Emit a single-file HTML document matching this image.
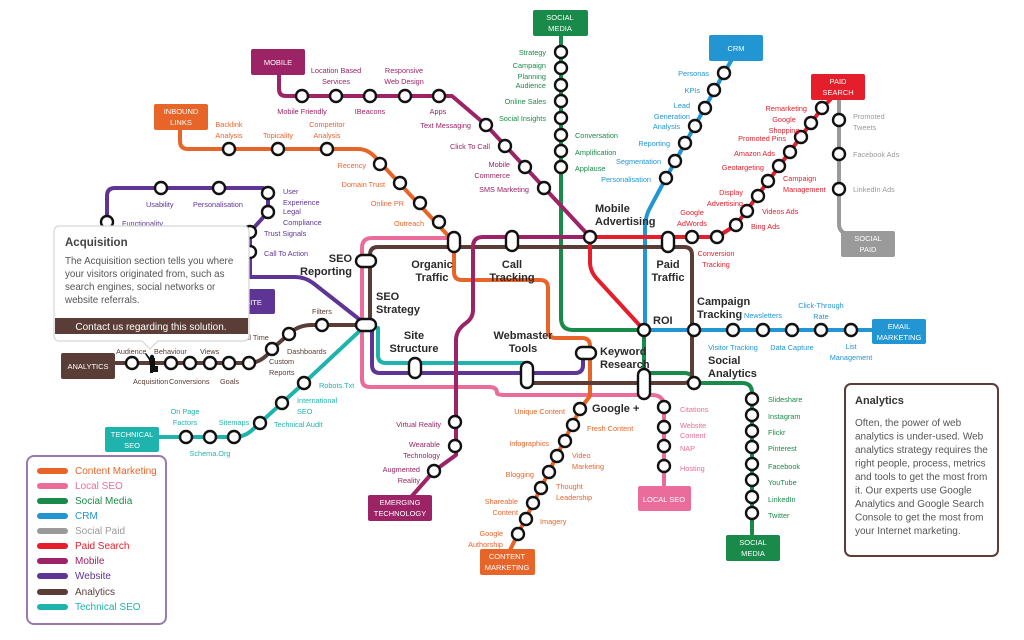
<!DOCTYPE html>
<html><head><meta charset="utf-8"><style>
html,body{margin:0;padding:0;background:#fff;}
svg{display:block;font-family:"Liberation Sans",Arial,sans-serif;}
.s{font-size:7.3px;}
.b{font-size:11px;font-weight:bold;fill:#2a2a2a;}
.bx{font-size:7.5px;fill:#fff;text-anchor:middle;}
.st{fill:#fff;stroke:#111;stroke-width:2.4;}
.ln{fill:none;stroke-width:4;stroke-linecap:round;stroke-linejoin:round;}
</style></head><body>
<svg width="1024" height="640" viewBox="0 0 1024 640" xmlns="http://www.w3.org/2000/svg">
<path class="ln" stroke="#e96c9b" d="M454,238 H372 Q362,238 362,248 V379 Q362,387 370,387 H489 Q497,387 497,393 Q497,395 505,395 H652 Q664,395 664,407 V488"/>
<path class="ln" stroke="#e8652a" d="M180,130 V141 Q180,149 188,149 H358 Q368,149 376,158 L454,242 V272 Q454,280 462,280 H540 Q548,280 548,288 V330 Q548,338 556,338 H582 Q590,338 590,346 V396 L580,409 L518,534 L510,550"/>
<path class="ln" stroke="#1a8a4a" d="M561,36 V318 Q561,330 573,330 H644 V383"/>
<path class="ln" stroke="#1a8a4a" d="M644,373 H684 Q694,373 694,383 H742 Q752,383 752,393 V536"/>
<path class="ln" stroke="#2196d3" d="M731,61 L724,73 L666,178 L651,206 Q645,216 645,228 V330 H872"/>
<path class="ln" stroke="#9a9a9a" d="M839,100 V224 Q839,232 847,234"/>
<path class="ln" stroke="#5a3d36" d="M370,325 V255 Q370,247 378,247 H684 Q692,247 692,255 V375 Q692,383 684,383 H527"/>
<path class="ln" stroke="#5a3d36" d="M116,363 H249 Q262,363 272,349 L289,334 Q298,325 312,325 H366"/>
<path class="ln" stroke="#1fb3ad" d="M108,437 H234 Q244,437 251,431 L304,383 L366,325"/>
<path class="ln" stroke="#1fb3ad" d="M378,328 V355 Q378,363 386,363 H527"/>
<path class="ln" stroke="#5e3495" d="M107,225 V196 Q107,188 115,188 H262 Q268,188 268,196 V212 L250,232 V277 H295 Q305,277 313,283 L364,323"/>
<path class="ln" stroke="#5e3495" d="M372,325 V365 Q372,373 380,373 H575 Q583,373 583,365 V354"/>
<path class="ln" stroke="#e41e2b" d="M590,237 H717 L736,225 L822,108 L830,100"/>
<path class="ln" stroke="#e41e2b" d="M590,237 V262 Q590,272 598,280 L643,329"/>
<path class="ln" stroke="#9b2366" d="M279,75 V89 Q279,96 286,96 H452 L486,125 L590,237 H483 Q473,237 473,247 V310 Q473,318 466,323 Q456,330 456,340 V455 L434,471 L412,496"/>

<g class="st">
<circle cx="302" cy="96" r="6"/><circle cx="336" cy="96" r="6"/><circle cx="370" cy="96" r="6"/><circle cx="405" cy="96" r="6"/><circle cx="439" cy="96" r="6"/>
<circle cx="486" cy="125" r="6"/><circle cx="505" cy="146" r="6"/><circle cx="525" cy="167" r="6"/><circle cx="544" cy="188" r="6"/>
<circle cx="455" cy="422" r="6"/><circle cx="455" cy="446" r="6"/><circle cx="434" cy="471" r="6"/>
<circle cx="229" cy="149" r="6"/><circle cx="278" cy="149" r="6"/><circle cx="327" cy="149" r="6"/>
<circle cx="380" cy="164" r="6"/><circle cx="400" cy="183" r="6"/><circle cx="420" cy="203" r="6"/><circle cx="439" cy="222" r="6"/>
<circle cx="107" cy="222" r="6"/><circle cx="161" cy="188" r="6"/><circle cx="219" cy="188" r="6"/><circle cx="268" cy="193" r="6"/><circle cx="268" cy="212" r="6"/><circle cx="250" cy="232" r="6"/><circle cx="250" cy="252" r="6"/>
<circle cx="561" cy="52" r="6"/><circle cx="561" cy="68" r="6"/><circle cx="561" cy="85" r="6"/><circle cx="561" cy="101" r="6"/><circle cx="561" cy="118" r="6"/><circle cx="561" cy="135" r="6"/><circle cx="561" cy="151" r="6"/><circle cx="561" cy="167" r="6"/>
<circle cx="724" cy="73" r="6"/><circle cx="714" cy="90" r="6"/><circle cx="705" cy="108" r="6"/><circle cx="695" cy="126" r="6"/><circle cx="685" cy="143" r="6"/><circle cx="675" cy="161" r="6"/><circle cx="666" cy="178" r="6"/>
<circle cx="822" cy="108" r="6"/><circle cx="811" cy="123" r="6"/><circle cx="801" cy="137" r="6"/><circle cx="790" cy="152" r="6"/><circle cx="779" cy="166" r="6"/><circle cx="768" cy="181" r="6"/><circle cx="758" cy="196" r="6"/><circle cx="747" cy="211" r="6"/><circle cx="736" cy="225" r="6"/><circle cx="717" cy="237" r="6"/><circle cx="692" cy="237" r="6"/>
<circle cx="839" cy="120" r="6"/><circle cx="839" cy="154" r="6"/><circle cx="839" cy="189" r="6"/>
<circle cx="733" cy="330" r="6"/><circle cx="763" cy="330" r="6"/><circle cx="792" cy="330" r="6"/><circle cx="821" cy="330" r="6"/><circle cx="851" cy="330" r="6"/>
<circle cx="694" cy="330" r="6"/><circle cx="644" cy="330" r="6"/><circle cx="694" cy="383" r="6"/><circle cx="590" cy="237" r="6"/>
<circle cx="752" cy="399" r="6"/><circle cx="752" cy="415" r="6"/><circle cx="752" cy="431" r="6"/><circle cx="752" cy="447" r="6"/><circle cx="752" cy="464" r="6"/><circle cx="752" cy="480" r="6"/><circle cx="752" cy="497" r="6"/><circle cx="752" cy="513" r="6"/>
<circle cx="664" cy="407" r="6"/><circle cx="664" cy="427" r="6"/><circle cx="664" cy="446" r="6"/><circle cx="664" cy="466" r="6"/>
<circle cx="580" cy="409" r="6"/><circle cx="573" cy="425" r="6"/><circle cx="565" cy="441" r="6"/><circle cx="557" cy="456" r="6"/><circle cx="549" cy="472" r="6"/><circle cx="541" cy="488" r="6"/><circle cx="533" cy="503" r="6"/><circle cx="526" cy="519" r="6"/><circle cx="518" cy="534" r="6"/>
<circle cx="132" cy="363" r="6"/><circle cx="171" cy="363" r="6"/><circle cx="190" cy="363" r="6"/><circle cx="210" cy="363" r="6"/><circle cx="229" cy="363" r="6"/><circle cx="249" cy="363" r="6"/>
<circle cx="272" cy="349" r="6"/><circle cx="289" cy="334" r="6"/><circle cx="322" cy="325" r="6"/>
<circle cx="186" cy="437" r="6"/><circle cx="210" cy="437" r="6"/><circle cx="234" cy="437" r="6"/><circle cx="260" cy="423" r="6"/><circle cx="282" cy="403" r="6"/><circle cx="304" cy="383" r="6"/>
<rect x="448" y="232" width="12" height="20" rx="6"/>
<rect x="506" y="231" width="12" height="20" rx="6"/>
<rect x="662" y="232" width="12" height="20" rx="6"/>
<rect x="356" y="255" width="20" height="12" rx="6"/>
<rect x="356" y="319" width="20" height="12" rx="6"/>
<rect x="409" y="358" width="12" height="20" rx="6"/>
<rect x="521" y="362" width="12" height="26" rx="6"/>
<rect x="576" y="347" width="20" height="12" rx="6"/>
<rect x="638" y="369" width="12" height="30" rx="6"/>
</g>
<g fill="#111"><circle cx="152" cy="357" r="2.2"/><path d="M149,360 L145,354 L146,353 L150,358 H155 V368 H153 V373 H150 V366 Z"/><rect x="153" y="366" width="5" height="6"/></g>

<g>
<rect x="251" y="49" width="54" height="26" rx="2" fill="#9b2366"/><text class="bx" x="278" y="65">MOBILE</text>
<rect x="154" y="104" width="54" height="26" rx="2" fill="#e8652a"/><text class="bx" x="181" y="114">INBOUND</text><text class="bx" x="181" y="125">LINKS</text>
<rect x="533" y="10" width="55" height="26" rx="2" fill="#1a8a4a"/><text class="bx" x="560" y="20">SOCIAL</text><text class="bx" x="560" y="31">MEDIA</text>
<rect x="709" y="35" width="54" height="26" rx="2" fill="#2196d3"/><text class="bx" x="736" y="51">CRM</text>
<rect x="811" y="74" width="54" height="26" rx="2" fill="#e41e2b"/><text class="bx" x="838" y="84">PAID</text><text class="bx" x="838" y="95">SEARCH</text>
<rect x="841" y="231" width="54" height="26" rx="2" fill="#9a9a9a"/><text class="bx" x="868" y="241">SOCIAL</text><text class="bx" x="868" y="252">PAID</text>
<rect x="872" y="319" width="54" height="25" rx="2" fill="#2196d3"/><text class="bx" x="899" y="329">EMAIL</text><text class="bx" x="899" y="340">MARKETING</text>
<rect x="726" y="535" width="54" height="26" rx="2" fill="#1a8a4a"/><text class="bx" x="753" y="545">SOCIAL</text><text class="bx" x="753" y="556">MEDIA</text>
<rect x="638" y="486" width="53" height="25" rx="2" fill="#e96c9b"/><text class="bx" x="664" y="502">LOCAL SEO</text>
<rect x="480" y="549" width="55" height="26" rx="2" fill="#e8652a"/><text class="bx" x="507" y="559">CONTENT</text><text class="bx" x="507" y="570">MARKETING</text>
<rect x="368" y="495" width="64" height="26" rx="2" fill="#9b2366"/><text class="bx" x="400" y="505">EMERGING</text><text class="bx" x="400" y="516">TECHNOLOGY</text>
<rect x="105" y="427" width="54" height="25" rx="2" fill="#1fb3ad"/><text class="bx" x="132" y="437">TECHNICAL</text><text class="bx" x="132" y="448">SEO</text>
<rect x="61" y="353" width="54" height="26" rx="2" fill="#5a3d36"/><text class="bx" x="88" y="369">ANALYTICS</text>
<rect x="215" y="289" width="60" height="25" rx="2" fill="#5e3495"/><text class="bx" x="245" y="305">WEBSITE</text>
</g>

<g class="s" fill="#9b2366" text-anchor="middle">
<text x="336" y="73">Location Based</text><text x="336" y="84">Services</text>
<text x="404" y="73">Responsive</text><text x="404" y="84">Web Design</text>
<text x="302" y="114">Mobile Friendly</text><text x="370" y="114">IBeacons</text><text x="438" y="114">Apps</text>
</g>
<g class="s" fill="#9b2366" text-anchor="end">
<text x="471" y="128">Text Messaging</text><text x="490" y="149">Click To Call</text>
<text x="510" y="167">Mobile</text><text x="510" y="178">Commerce</text><text x="529" y="192">SMS Marketing</text>
<text x="441" y="427">Virtual Reality</text><text x="440" y="447">Wearable</text><text x="440" y="458">Technology</text>
<text x="420" y="472">Augmented</text><text x="420" y="483">Reality</text>
</g>
<g class="s" fill="#e8652a" text-anchor="middle">
<text x="229" y="127">Backlink</text><text x="229" y="138">Analysis</text><text x="278" y="138">Topicality</text>
<text x="327" y="127">Competitor</text><text x="327" y="138">Analysis</text>
</g>
<g class="s" fill="#e8652a" text-anchor="end">
<text x="366" y="168">Recency</text><text x="385" y="187">Domain Trust</text><text x="404" y="206">Online PR</text><text x="424" y="226">Outreach</text>
<text x="565" y="414">Unique Content</text><text x="549" y="446">Infographics</text><text x="534" y="477">Blogging</text>
<text x="518" y="504">Shareable</text><text x="518" y="515">Content</text><text x="503" y="536">Google</text><text x="503" y="547">Authorship</text>
</g>
<g class="s" fill="#e8652a">
<text x="587" y="431">Fresh Content</text><text x="572" y="458">Video</text><text x="572" y="469">Marketing</text>
<text x="556" y="489">Thought</text><text x="556" y="500">Leadership</text><text x="540" y="524">Imagery</text>
</g>
<g class="s" fill="#5e3495">
<text x="146" y="207">Usability</text><text x="193" y="207">Personalisation</text>
<text x="283" y="194">User</text><text x="283" y="205">Experience</text><text x="283" y="214">Legal</text><text x="283" y="225">Compliance</text>
<text x="264" y="236">Trust Signals</text><text x="264" y="256">Call To Action</text><text x="122" y="226">Functionality</text>
</g>
<g class="s" fill="#1a8a4a" text-anchor="end">
<text x="546" y="55">Strategy</text><text x="546" y="68">Campaign</text><text x="546" y="79">Planning</text><text x="546" y="88">Audience</text>
<text x="546" y="104">Online Sales</text><text x="546" y="121">Social Insights</text>
</g>
<g class="s" fill="#1a8a4a">
<text x="575" y="138">Conversation</text><text x="575" y="155">Amplification</text><text x="575" y="171">Applause</text>
<text x="768" y="402">Slideshare</text><text x="768" y="419">Instagram</text><text x="768" y="435">Flickr</text><text x="768" y="451">Pinterest</text>
<text x="768" y="469">Facebook</text><text x="768" y="485">YouTube</text><text x="768" y="502">LinkedIn</text><text x="768" y="518">Twitter</text>
</g>
<g class="s" fill="#2196d3" text-anchor="end">
<text x="709" y="76">Personas</text><text x="700" y="93">KPIs</text><text x="690" y="108">Lead</text><text x="690" y="119">Generation</text>
<text x="680" y="129">Analysis</text><text x="670" y="146">Reporting</text><text x="661" y="164">Segmentation</text><text x="651" y="182">Personalisation</text>
</g>
<g class="s" fill="#2196d3" text-anchor="middle">
<text x="763" y="318">Newsletters</text><text x="821" y="308">Click-Through</text><text x="821" y="319">Rate</text>
<text x="733" y="350">Visitor Tracking</text><text x="792" y="350">Data Capture</text><text x="851" y="349">List</text><text x="851" y="360">Management</text>
</g>
<g class="s" fill="#e41e2b" text-anchor="end">
<text x="807" y="111">Remarketing</text><text x="786" y="141">Promoted Pins</text><text x="775" y="156">Amazon Ads</text>
<text x="764" y="170">Geotargeting</text><text x="743" y="195">Display</text><text x="743" y="206">Advertising</text>
</g>
<g class="s" fill="#e41e2b">
<text x="784" y="122" text-anchor="middle">Google</text><text x="784" y="133" text-anchor="middle">Shopping</text>
<text x="783" y="181">Campaign</text><text x="783" y="192">Management</text><text x="762" y="214">Videos Ads</text>
<text x="692" y="215" text-anchor="middle">Google</text><text x="692" y="226" text-anchor="middle">AdWords</text>
<text x="751" y="229">Bing Ads</text>
<text x="716" y="256" text-anchor="middle">Conversion</text><text x="716" y="267" text-anchor="middle">Tracking</text>
</g>
<g class="s" fill="#9a9a9a">
<text x="853" y="119">Promoted</text><text x="853" y="130">Tweets</text><text x="853" y="157">Facebook Ads</text><text x="853" y="192">LinkedIn Ads</text>
</g>
<g class="s" fill="#e96c9b">
<text x="680" y="412">Citations</text><text x="680" y="428">Website</text><text x="680" y="438">Content</text><text x="680" y="451">NAP</text><text x="680" y="471">Hosting</text>
</g>
<g class="s" fill="#5a3d36">
<text x="116" y="354">Audience</text><text x="154" y="354">Behaviour</text><text x="200" y="354">Views</text>
<text x="133" y="384">Acquisition</text><text x="169" y="384">Conversions</text><text x="220" y="384">Goals</text>
<text x="236" y="340">Real Time</text><text x="312" y="314">Filters</text><text x="287" y="354">Dashboards</text>
<text x="269" y="364">Custom</text><text x="269" y="375">Reports</text>
</g>
<g class="s" fill="#1fb3ad">
<text x="185" y="414" text-anchor="middle">On Page</text><text x="185" y="425" text-anchor="middle">Factors</text>
<text x="234" y="425" text-anchor="middle">Sitemaps</text><text x="210" y="456" text-anchor="middle">Schema.Org</text>
<text x="274" y="427">Technical Audit</text><text x="297" y="403">International</text><text x="297" y="414">SEO</text><text x="319" y="388">Robots.Txt</text>
</g>
<g class="b">
<text x="352" y="262" text-anchor="end">SEO</text><text x="352" y="275" text-anchor="end">Reporting</text>
<text x="376" y="300">SEO</text><text x="376" y="313">Strategy</text>
<text x="432" y="268" text-anchor="middle">Organic</text><text x="432" y="281" text-anchor="middle">Traffic</text>
<text x="512" y="268" text-anchor="middle">Call</text><text x="512" y="281" text-anchor="middle">Tracking</text>
<text x="595" y="212">Mobile</text><text x="595" y="225">Advertising</text>
<text x="668" y="268" text-anchor="middle">Paid</text><text x="668" y="281" text-anchor="middle">Traffic</text>
<text x="697" y="305">Campaign</text><text x="697" y="318">Tracking</text>
<text x="653" y="324">ROI</text>
<text x="414" y="339" text-anchor="middle">Site</text><text x="414" y="352" text-anchor="middle">Structure</text>
<text x="523" y="339" text-anchor="middle">Webmaster</text><text x="523" y="352" text-anchor="middle">Tools</text>
<text x="600" y="355">Keyword</text><text x="600" y="368">Research</text>
<text x="708" y="364">Social</text><text x="708" y="377">Analytics</text>
<text x="592" y="412">Google +</text>
</g>

<rect x="27" y="456" width="139" height="168" rx="7" fill="#fff" stroke="#9a7ab0" stroke-width="2"/>
<g stroke-width="6" stroke-linecap="round">
<line x1="40" y1="471" x2="65" y2="471" stroke="#e8652a"/><line x1="40" y1="486" x2="65" y2="486" stroke="#e96c9b"/>
<line x1="40" y1="501" x2="65" y2="501" stroke="#1a8a4a"/><line x1="40" y1="516" x2="65" y2="516" stroke="#2196d3"/>
<line x1="40" y1="531" x2="65" y2="531" stroke="#9a9a9a"/><line x1="40" y1="546" x2="65" y2="546" stroke="#e41e2b"/>
<line x1="40" y1="561" x2="65" y2="561" stroke="#9b2366"/><line x1="40" y1="576" x2="65" y2="576" stroke="#5e3495"/>
<line x1="40" y1="592" x2="65" y2="592" stroke="#5a3d36"/><line x1="40" y1="607" x2="65" y2="607" stroke="#1fb3ad"/>
</g>
<g font-size="10">
<text x="75" y="474" fill="#e8652a">Content Marketing</text><text x="75" y="489" fill="#e96c9b">Local SEO</text>
<text x="75" y="504" fill="#1a8a4a">Social Media</text><text x="75" y="519" fill="#2196d3">CRM</text>
<text x="75" y="534" fill="#9a9a9a">Social Paid</text><text x="75" y="549" fill="#e41e2b">Paid Search</text>
<text x="75" y="564" fill="#9b2366">Mobile</text><text x="75" y="579" fill="#5e3495">Website</text>
<text x="75" y="595" fill="#5a3d36">Analytics</text><text x="75" y="610" fill="#1fb3ad">Technical SEO</text>
</g>

<rect x="845" y="384" width="153" height="172" rx="6" fill="#fff" stroke="#5a3d36" stroke-width="2"/>
<text x="855" y="404" font-size="11" font-weight="bold" fill="#333">Analytics</text>
<g font-size="10" fill="#555">
<text x="855" y="426">Often, the power of web</text><text x="855" y="439.5">analytics is under-used. Web</text>
<text x="855" y="453">analytics strategy requires the</text><text x="855" y="466.5">right people, process, metrics</text>
<text x="855" y="480">and tools to get the most from</text><text x="855" y="493.5">it. Our experts use Google</text>
<text x="855" y="507">Analytics and Google Search</text><text x="855" y="520.5">Console to get the most from</text>
<text x="855" y="534">your Internet marketing.</text>
</g>

<path d="M60,226 H243 Q249,226 249,232 V335 Q249,341 243,341 H158 L150,349 L142,341 H60 Q54,341 54,335 V232 Q54,226 60,226 Z" fill="#fff" stroke="#d6d6d6" stroke-width="1.2"/>
<rect x="55" y="318" width="193" height="16" fill="#5a3d36"/>
<text x="65" y="246" font-size="11.5" font-weight="bold" fill="#444">Acquisition</text>
<g font-size="9.8" fill="#555">
<text x="65" y="264">The Acquisition section tells you where</text>
<text x="65" y="277">your visitors originated from, such as</text>
<text x="65" y="290">search engines, social networks or</text>
<text x="65" y="303">website referrals.</text>
</g>
<text x="151" y="330" font-size="10" fill="#fff" text-anchor="middle">Contact us regarding this solution.</text>
</svg>
</body></html>
